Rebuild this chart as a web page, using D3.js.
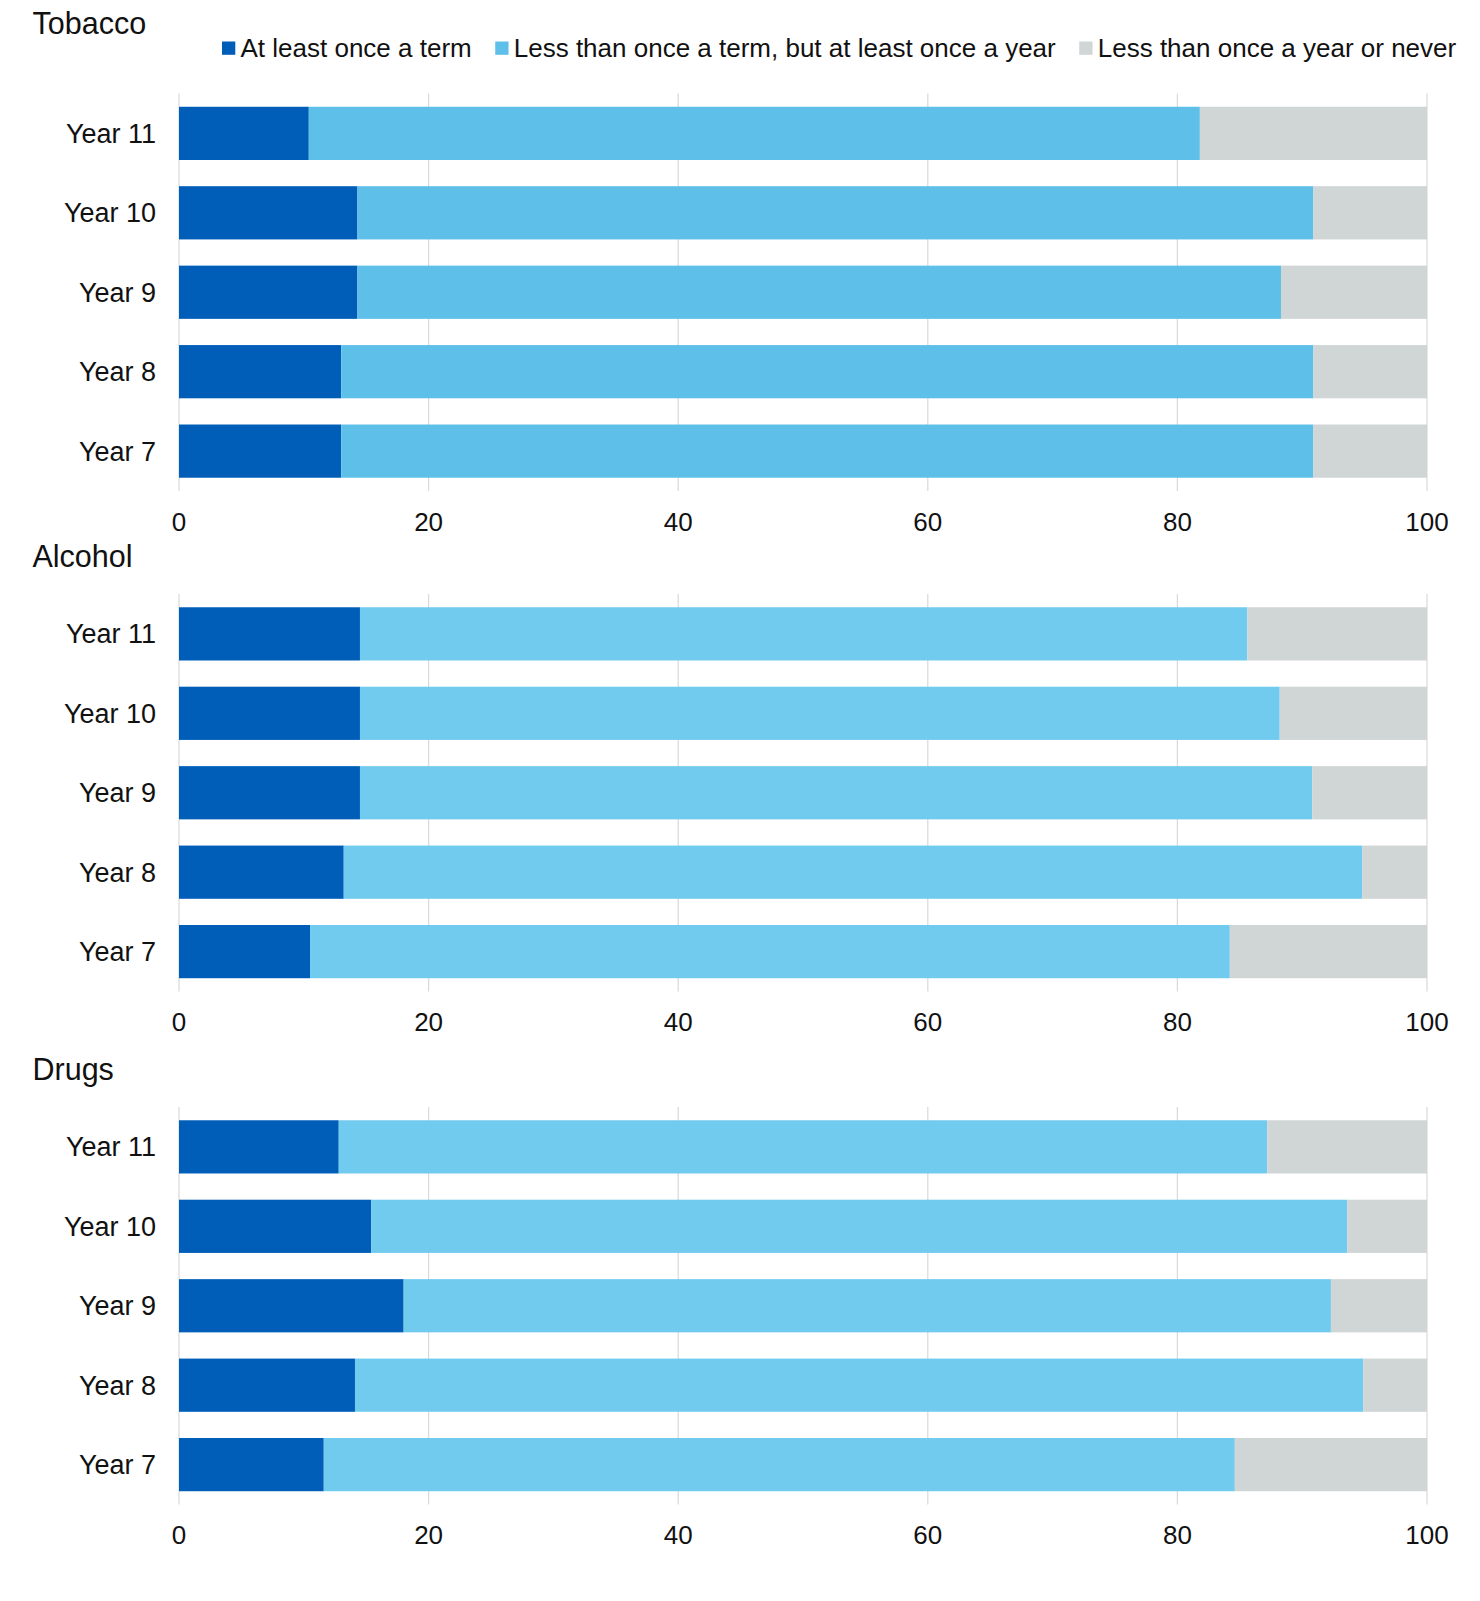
<!DOCTYPE html>
<html>
<head>
<meta charset="utf-8">
<script src="https://cdn.jsdelivr.net/npm/d3@7"></script>
<style>
  body { margin: 0; background: #fff; }
  svg text { font-family: "Liberation Sans", Arial, sans-serif; fill: #111; }
</style>
</head>
<body>
<svg id="chart" width="1480" height="1601"></svg>
<script>
// categories, top to bottom
var years = ["Year 11", "Year 10", "Year 9", "Year 8", "Year 7"];
var seriesNames = ["At least once a term", "Less than once a term, but at least once a year", "Less than once a year or never"];
var xTicks = [0, 20, 40, 60, 80, 100];

// % of pupils, per year group (same order as years)
var tobaccoTerm  = [10.4, 14.3, 14.3, 13.0, 13.0];
var tobaccoYear  = [71.4, 76.6, 74.0, 77.9, 77.9];
var tobaccoNever = [18.2, 9.1, 11.7, 9.1, 9.1];

var alcoholTerm  = [14.5, 14.5, 14.5, 13.2, 10.5];
var alcoholYear  = [71.1, 73.7, 76.3, 81.6, 73.7];
var alcoholNever = [14.4, 11.8, 9.2, 5.2, 15.8];

var drugsTerm  = [12.8, 15.4, 18.0, 14.1, 11.6];
var drugsYear  = [74.4, 78.2, 74.3, 80.8, 73.0];
var drugsNever = [12.8, 6.4, 7.7, 5.1, 15.4];

var darkBlue = "#005eb8";
var greyCol = "#d0d5d6";

var panels = [
  {title: "Tobacco", term: tobaccoTerm, year: tobaccoYear, never: tobaccoNever, light: "#5ec0e8", top: 93.5, titleY: 34},
  {title: "Alcohol", term: alcoholTerm, year: alcoholYear, never: alcoholNever, light: "#71cbee", top: 594, titleY: 567},
  {title: "Drugs", term: drugsTerm, year: drugsYear, never: drugsNever, light: "#71cbee", top: 1107, titleY: 1080}
];

var svg = d3.select("#chart");
var x = d3.scaleLinear().domain([0, 100]).range([179, 1427]);
var plotH = 397.5;
var keys = ["term", "year", "never"];

panels.forEach(function(p) {
  var g = svg.append("g");

  var y = d3.scaleBand().domain(years)
    .range([p.top, p.top + plotH])
    .paddingInner(0.33).paddingOuter(0.167);

  // gridlines
  g.selectAll(".grid").data(xTicks).enter().append("line")
    .attr("x1", function(d) { return x(d); })
    .attr("x2", function(d) { return x(d); })
    .attr("y1", p.top).attr("y2", p.top + plotH)
    .attr("stroke", "#d9d9d9").attr("stroke-width", 1.2);

  var rows = years.map(function(yr, i) {
    return {yr: yr, term: p.term[i], year: p.year[i], never: p.never[i]};
  });
  var stacked = d3.stack().keys(keys)(rows);
  var colors = [darkBlue, p.light, greyCol];

  g.selectAll(".layer").data(stacked).enter().append("g")
    .attr("fill", function(d, i) { return colors[i]; })
    .selectAll("rect").data(function(d) { return d; }).enter().append("rect")
    .attr("x", function(d) { return x(d[0]); })
    .attr("width", function(d) { return x(Math.min(d[1], 100)) - x(d[0]); })
    .attr("y", function(d) { return y(d.data.yr); })
    .attr("height", y.bandwidth());

  // category labels
  g.selectAll(".ylab").data(years).enter().append("text")
    .attr("x", 156)
    .attr("y", function(d) { return y(d) + y.bandwidth() / 2 + 9.5; })
    .attr("text-anchor", "end")
    .style("font-size", "27px")
    .text(function(d) { return d; });

  // x tick labels
  g.selectAll(".xlab").data(xTicks).enter().append("text")
    .attr("x", function(d) { return x(d); })
    .attr("y", p.top + plotH + 39.5)
    .attr("text-anchor", "middle")
    .style("font-size", "26px")
    .text(function(d) { return d; });

  g.append("text")
    .attr("x", 32.5).attr("y", p.titleY)
    .style("font-size", "30.5px")
    .text(p.title);
});

// legend (only once, top right)
var legend = svg.append("g");
var legColors = [darkBlue, panels[0].light, greyCol];
var lx = 222;
seriesNames.forEach(function(name, i) {
  legend.append("rect")
    .attr("x", lx).attr("y", 41.5)
    .attr("width", 13.3).attr("height", 13.3)
    .attr("fill", legColors[i]);
  var t = legend.append("text")
    .attr("x", lx + 18.5).attr("y", 57)
    .style("font-size", "26px")
    .text(name);
  lx = lx + 18.5 + t.node().getComputedTextLength() + 23.5;
});
</script>
</body>
</html>
